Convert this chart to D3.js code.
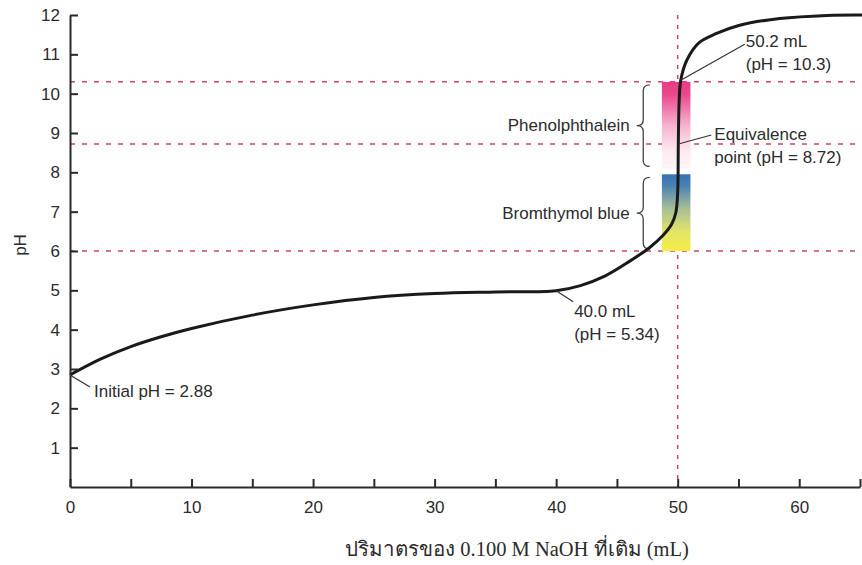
<!DOCTYPE html>
<html>
<head>
<meta charset="utf-8">
<script src="https://cdn.jsdelivr.net/npm/d3@7"></script>
<style>
  body { margin: 0; background: #fff; }
  svg text { font-family: "Liberation Sans", Arial, sans-serif; fill: #2b2b2b; }
</style>
</head>
<body>
<svg id="chart" width="862" height="565"></svg>
<script>
// titration curve
const volume = [0, 2.5, 5, 7.5, 10, 15, 20, 25, 30, 35, 40, 42, 44, 46, 47.7, 48.8, 49.5, 49.85, 50.0, 50.05, 50.12, 50.25, 50.75, 51.7, 53.2, 55.1, 58.4, 62.3, 65.2]
const ph = [2.85, 3.25, 3.57, 3.82, 4.03, 4.37, 4.63, 4.82, 4.92, 4.96, 4.99, 5.12, 5.36, 5.73, 6.09, 6.40, 6.68, 6.98, 7.5, 8.7, 9.8, 10.34, 10.85, 11.28, 11.53, 11.74, 11.91, 11.99, 12.0]

const phTicks = [1, 2, 3, 4, 5, 6, 7, 8, 9, 10, 11, 12]
const volumeTicks = [0, 5, 10, 15, 20, 25, 30, 35, 40, 45, 50, 55, 60, 65]
const volumeLabels = [0, 10, 20, 30, 40, 50, 60]

const guidePh = [10.3, 8.72, 6.0]
const guideVolume = [50]

const indicatorNames = ["Phenolphthalein", "Bromthymol blue"]
const indicatorLow = [8.1, 6.0]
const indicatorHigh = [10.3, 7.95]
const indicatorVolume = [48.7, 51.05]

const noteText = [["Initial pH = 2.88"], ["40.0 mL", "(pH = 5.34)"], ["50.2 mL", "(pH = 10.3)"], ["Equivalence", "point (pH = 8.72)"]]
const noteVolume = [0, 40.0, 50.25, 50.05]
const notePh = [2.85, 4.99, 10.34, 8.72]

const xTitle = "ปริมาตรของ 0.100 M NaOH ที่เติม (mL)"
const yTitle = "pH"

const svg = d3.select("#chart")

const x = d3.scaleLinear().domain([0, 65]).range([70, 860])
const y = d3.scaleLinear().domain([0, 12]).range([487, 15])

const guideColor = "#cf4274"

// horizontal + vertical dashed guides
svg.append("g").selectAll("line")
  .data(guidePh)
  .join("line")
  .attr("x1", x(0)).attr("x2", 862)
  .attr("y1", d => y(d)).attr("y2", d => y(d))
  .attr("stroke", guideColor)
  .attr("stroke-width", 1.5)
  .attr("stroke-dasharray", "5,7")

svg.append("g").selectAll("line")
  .data(guideVolume)
  .join("line")
  .attr("x1", d => x(d)).attr("x2", d => x(d))
  .attr("y1", y(12)).attr("y2", y(0))
  .attr("stroke", guideColor)
  .attr("stroke-width", 1.5)
  .attr("stroke-dasharray", "4,6")

// gradients for the indicator bars
const defs = svg.append("defs")
const pink = defs.append("linearGradient").attr("id", "gPink").attr("x1", 0).attr("x2", 0).attr("y1", 0).attr("y2", 1)
pink.append("stop").attr("offset", 0).attr("stop-color", "#e93b84")
pink.append("stop").attr("offset", 0.15).attr("stop-color", "#ea4a8c")
pink.append("stop").attr("offset", 0.5).attr("stop-color", "#f6b2cf")
pink.append("stop").attr("offset", 0.8).attr("stop-color", "#fde9f1")
pink.append("stop").attr("offset", 1).attr("stop-color", "#fff6f9")

const blue = defs.append("linearGradient").attr("id", "gBlue").attr("x1", 0).attr("x2", 0).attr("y1", 0).attr("y2", 1)
blue.append("stop").attr("offset", 0).attr("stop-color", "#3474b4")
blue.append("stop").attr("offset", 0.15).attr("stop-color", "#4a82b4")
blue.append("stop").attr("offset", 0.45).attr("stop-color", "#a8bf98")
blue.append("stop").attr("offset", 0.75).attr("stop-color", "#e3e46a")
blue.append("stop").attr("offset", 1).attr("stop-color", "#f6ee42")

const gradIds = ["url(#gPink)", "url(#gBlue)"]

svg.append("g").selectAll("rect")
  .data(indicatorNames)
  .join("rect")
  .attr("x", x(indicatorVolume[0]))
  .attr("width", x(indicatorVolume[1]) - x(indicatorVolume[0]))
  .attr("y", (d, i) => y(indicatorHigh[i]))
  .attr("height", (d, i) => y(indicatorLow[i]) - y(indicatorHigh[i]))
  .attr("fill", (d, i) => gradIds[i])

// curly braces + indicator names
function brace(xb, xt, y0, y1) {
  const xm = (xb + xt) / 2, ym = (y0 + y1) / 2, r = 6
  return `M${xb},${y0} Q${xm},${y0} ${xm},${y0 + r} L${xm},${ym - r} Q${xm},${ym} ${xt},${ym}` +
    ` Q${xm},${ym} ${xm},${ym + r} L${xm},${y1 - r} Q${xm},${y1} ${xb},${y1}`
}
const braceBack = x(47.7)
const braceTip = braceBack - 13

svg.append("g").selectAll("path")
  .data(indicatorNames)
  .join("path")
  .attr("d", (d, i) => brace(braceBack, braceTip, y(indicatorHigh[i]) + 3, y(indicatorLow[i]) - 2))
  .attr("fill", "none")
  .attr("stroke", "#444")
  .attr("stroke-width", 1.3)

svg.append("g").selectAll("text")
  .data(indicatorNames)
  .join("text")
  .attr("x", braceTip - 7)
  .attr("y", (d, i) => (y(indicatorHigh[i]) + y(indicatorLow[i])) / 2 + 6)
  .attr("text-anchor", "end")
  .style("font-size", "17px")
  .text(d => d)

// the curve
const line = d3.line()
  .x(d => x(d[0]))
  .y(d => y(d[1]))
  .curve(d3.curveCatmullRom.alpha(0.5))

svg.append("path")
  .datum(volume.map((v, i) => [v, ph[i]]))
  .attr("d", line)
  .attr("fill", "none")
  .attr("stroke", "#1a1a1a")
  .attr("stroke-width", 3)

// axes
const yAxis = d3.axisLeft(y)
  .tickValues(phTicks)
  .tickSizeInner(-8)
  .tickSizeOuter(0)
  .tickPadding(10)

svg.append("g")
  .attr("transform", `translate(${x(0)},0)`)
  .call(yAxis)

const xAxis = d3.axisBottom(x)
  .tickValues(volumeTicks)
  .tickSizeInner(-8)
  .tickSizeOuter(0)
  .tickPadding(14)
  .tickFormat(d => volumeLabels.includes(d) ? d : "")

svg.append("g")
  .attr("transform", `translate(0,${y(0)})`)
  .call(xAxis)

svg.selectAll(".domain").attr("stroke", "#2a2a2a").attr("stroke-width", 2)
svg.selectAll(".tick line").attr("stroke", "#2a2a2a").attr("stroke-width", 2)
svg.selectAll(".tick text").style("font-size", "17px").attr("fill", "#2b2b2b")

// annotations
const noteLayout = [
  {lx: 20, ly: 12, tx: 24, ty: 22},
  {lx: 17, ly: 11, tx: 18, ty: 26},
  {lx: 64, ly: -36, tx: 65, ty: -33},
  {lx: 33, ly: -9, tx: 36, ty: -4}
]

noteText.forEach((lines, i) => {
  const ax = x(noteVolume[i]), ay = y(notePh[i]), o = noteLayout[i]
  svg.append("line")
    .attr("x1", ax).attr("y1", ay)
    .attr("x2", ax + o.lx).attr("y2", ay + o.ly)
    .attr("stroke", "#333").attr("stroke-width", 1.2)
  const t = svg.append("text")
    .attr("x", ax + o.tx)
    .attr("y", ay + o.ty)
    .style("font-size", "17px")
  lines.forEach((s, k) => {
    t.append("tspan")
      .attr("x", ax + o.tx)
      .attr("dy", k === 0 ? 0 : 23)
      .text(s)
  })
})

// axis titles
svg.append("text")
  .attr("x", 517)
  .attr("y", 556)
  .attr("text-anchor", "middle")
  .style("font-family", "'Liberation Serif', 'Times New Roman', serif")
  .style("font-size", "20.5px")
  .attr("fill", "#222")
  .text(xTitle)

svg.append("text")
  .attr("transform", "translate(26,245) rotate(-90)")
  .attr("text-anchor", "middle")
  .style("font-size", "17px")
  .text(yTitle)
</script>
</body>
</html>
